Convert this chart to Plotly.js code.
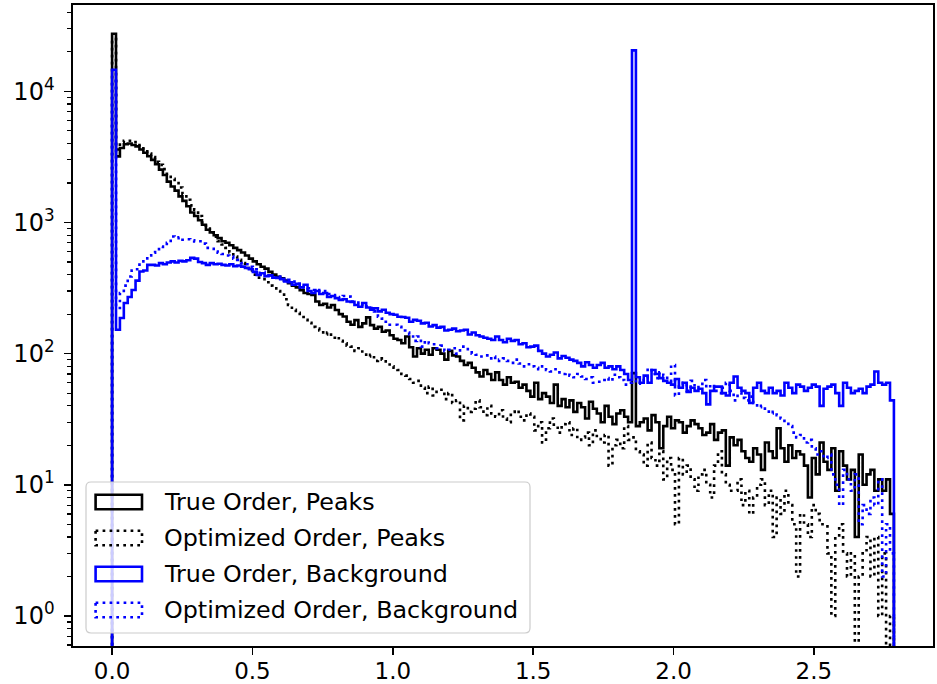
<!DOCTYPE html>
<html>
<head>
<meta charset="utf-8">
<script src="https://cdn.plot.ly/plotly-3.0.1.min.js"></script>
<style>
  html, body { margin: 0; padding: 0; background: #ffffff; }
  #chart { width: 937px; height: 684px; }
</style>
</head>
<body>
<div id="chart"></div>
<script>
// Histogram binning (shared by all four series)
const binStart = 0;
const binStop = 2.785;
const binCount = 200;

const seriesNames = [
  'True Order, Peaks',
  'Optimized Order, Peaks',
  'True Order, Background',
  'Optimized Order, Background'
];

// Counts per bin
const truePeaks = [
  27500, 3190, 3700, 3950, 4000, 3900, 3800, 3600, 3400, 3200,
  3000, 2780, 2530, 2300, 2050, 1880, 1750, 1580, 1460, 1330,
  1190, 1120, 1040, 960, 880, 840, 800, 760, 720, 700,
  670, 640, 615, 590, 560, 530, 505, 480, 460, 445,
  420, 400, 385, 375, 360, 345, 330, 320, 305, 290,
  285, 280, 250, 235, 240, 225, 235, 215, 200, 192,
  175, 166, 180, 160, 170, 189, 165, 155, 160, 147,
  150, 138, 130, 127, 120, 135, 112, 95, 110, 100,
  107, 98, 110, 107, 100, 90, 105, 97, 95, 88,
  82, 85, 78, 72, 67, 75, 70, 63, 72, 63,
  58, 66, 60, 61, 55, 58, 52, 47, 60, 45,
  50, 47, 42, 58, 40, 45, 39, 44, 36, 42,
  39, 32, 43, 38, 35, 30, 40, 33, 29, 35,
  37, 33, 30, 71, 28, 30, 32, 26, 34, 30,
  19, 28, 33, 27, 31, 30, 25, 28, 31, 29,
  27, 24, 25, 29, 22, 25, 26, 14, 23, 20,
  22, 18, 16, 15, 19, 17, 13, 21, 18, 16,
  27, 19, 15, 20, 16, 18, 17, 14, 8, 16,
  12, 21, 15, 13, 19, 9, 18, 14, 11, 13,
  4, 17, 10, 12, 13, 9, 11, 9, 11, 6
];

const optimizedPeaks = [
  25000, 3600, 4100, 4200, 4200, 4100, 4000, 3800, 3600, 3350,
  3150, 2900, 2750, 2550, 2350, 2150, 2050, 1850, 1650, 1490,
  1350, 1250, 1120, 1000, 900, 840, 780, 720, 680, 640,
  590, 550, 520, 490, 450, 430, 400, 380, 370, 350,
  330, 315, 300, 290, 260, 235, 216, 205, 190, 181,
  172, 160, 155, 150, 140, 145, 132, 135, 125, 120,
  115, 113, 105, 110, 101, 95, 98, 88, 92, 90,
  85, 80, 78, 75, 70, 68, 64, 60, 62, 55,
  50, 56, 48, 53, 53, 45, 50, 42, 44, 31,
  40, 36, 38, 44, 39, 34, 40, 35, 33, 37,
  32, 30, 36, 37, 33, 31, 35, 33, 26, 30,
  21, 27, 32, 28, 25, 29, 30, 24, 27, 22,
  23, 25, 20, 26, 23, 21, 24, 14, 20, 22,
  19, 28, 22, 23, 18, 17, 14, 21, 16, 14,
  18, 11, 16, 13, 5, 16, 12, 14, 11, 9,
  12, 13, 10, 8, 14, 18, 12, 10, 9, 9,
  11, 7, 9, 6, 8, 10, 11, 7, 9, 4,
  8, 6, 9, 7, 5, 2, 6, 5, 4, 7,
  6, 5, 5, 3, 1, 4, 5, 3, 2, 3,
  0, 2, 3, 4, 2, 4, 1, 3, 0, 1
];

const trueBackground = [
  14600, 152, 187, 243, 270, 306, 360, 423, 430, 475,
  475, 470, 490, 480, 495, 505, 495, 510, 505, 515,
  537, 530, 500, 490, 475, 490, 480, 485, 475, 470,
  480, 465, 470, 461, 450, 440, 420, 398, 410, 390,
  395, 380, 378, 370, 355, 350, 335, 340, 320, 335,
  300, 290, 300, 285, 290, 270, 275, 265, 257, 260,
  250, 248, 235, 228, 243, 225, 216, 222, 210, 216,
  205, 200, 198, 191, 190, 188, 175, 181, 178, 170,
  172, 161, 165, 158, 160, 150, 152, 155, 148, 150,
  152, 140, 145, 138, 135, 132, 130, 127, 135, 127,
  122, 130, 125, 127, 118, 120, 112, 113, 115, 105,
  100, 95, 98, 102, 92, 96, 93, 90, 88, 85,
  80, 86, 82, 78, 82, 85, 78, 80, 76, 80,
  75, 70, 63, 20500, 66, 60, 68, 60, 75, 70,
  65, 62, 60, 58, 64, 55, 60, 51, 55, 52,
  54, 50, 41, 52, 56, 56, 50, 48, 60, 67,
  55, 52, 50, 42, 55, 60, 52, 50, 55, 50,
  52, 48, 60, 55, 50, 58, 56, 52, 55, 58,
  56, 40, 54, 56, 58, 50, 40, 60, 55, 50,
  52, 54, 50, 56, 58, 73, 60, 58, 60, 44
];

const optimizedBackground = [
  12000, 223, 290, 330, 387, 430, 440, 490, 519, 560,
  587, 610, 656, 650, 700, 782, 760, 770, 738, 745,
  730, 716, 720, 690, 640, 630, 600, 587, 575, 560,
  550, 530, 519, 490, 480, 460, 440, 413, 420, 400,
  395, 380, 387, 370, 360, 365, 354, 340, 330, 320,
  315, 306, 300, 305, 300, 285, 280, 270, 265, 275,
  272, 250, 245, 235, 240, 230, 223, 210, 191, 185,
  175, 166, 166, 160, 150, 145, 140, 125, 135, 113,
  125, 120, 118, 110, 115, 105, 107, 110, 100, 113,
  113, 105, 100, 98, 95, 97, 92, 95, 88, 90,
  92, 88, 85, 90, 84, 80, 83, 80, 78, 76,
  80, 75, 73, 76, 72, 70, 71, 68, 66, 70,
  67, 64, 66, 60, 61, 63, 65, 62, 69, 66,
  63, 58, 60, 62, 59, 60, 66, 77, 70, 65,
  72, 68, 62, 82, 48, 58, 60, 52, 62, 55,
  57, 63, 55, 58, 52, 50, 55, 60, 52, 44,
  50, 46, 44, 47, 42, 39, 40, 37, 35, 36,
  34, 32, 30, 28, 25, 23, 24, 21, 22, 19,
  17, 18, 16, 17, 12, 10, 7, 13, 11, 9,
  12, 5, 7, 6, 8, 7, 11, 2, 5, 3
];

const xTickVals = [0, 0.5, 1.0, 1.5, 2.0, 2.5];
const xTickText = ['0.0', '0.5', '1.0', '1.5', '2.0', '2.5'];
const yTickVals = [1, 10, 100, 1000, 10000];
const yTickText = ['10<sup>0</sup>', '10<sup>1</sup>', '10<sup>2</sup>', '10<sup>3</sup>', '10<sup>4</sup>'];

// ---- drawing ----
const FONT = 'DejaVu Sans, Liberation Sans, sans-serif';
const BLUE = '#0000ff';
const BLACK = '#000000';
const LW = 2.6;
const DOTS = '2.7px,4.3px';
const X_TICK_SIZE = 23;
const Y_TICK_SIZE = 24;
const LEGEND_SIZE = 23.8;

const edges = [];
for (let i = 0; i <= binCount; i++) edges.push(binStart + i * (binStop - binStart) / binCount);

// Step outline like an unfilled histogram: rises from the floor, walks the bins, drops back.
const FLOOR = 1e-3;
function stepOutline(counts) {
  const xs = [edges[0]], ys = [FLOOR];
  counts.forEach((c, i) => { xs.push(edges[i]); ys.push(c > 0 ? c : FLOOR); });
  const last = counts[counts.length - 1];
  xs.push(edges[binCount]); ys.push(last > 0 ? last : FLOOR);
  xs.push(edges[binCount]); ys.push(FLOOR);
  return { xs, ys };
}

const styles = [
  { color: BLACK, dash: 'solid' },
  { color: BLACK, dash: DOTS },
  { color: BLUE, dash: 'solid' },
  { color: BLUE, dash: DOTS }
];
const allSeries = [truePeaks, optimizedPeaks, trueBackground, optimizedBackground];

const traces = allSeries.map((counts, k) => {
  const o = stepOutline(counts);
  return {
    type: 'scatter', mode: 'lines', name: seriesNames[k],
    x: o.xs, y: o.ys,
    line: { shape: 'hv', color: styles[k].color, width: LW, dash: styles[k].dash, simplify: false },
    showlegend: false, hoverinfo: 'skip'
  };
});

// Plot-area geometry in pixels
const W = 937, H = 684;
const M = { l: 73, r: 4, t: 5, b: 38 };
const PW = W - M.l - M.r, PH = H - M.t - M.b;
const px = v => (v - M.l) / PW;
const py = v => 1 - (v - M.t) / PH;

// Legend panel (rounded, translucent) with rectangle handles
const box = { x0: 86, x1: 530, y0: 482, y1: 633, r: 5 };
function roundedPath(b) {
  const X0 = px(b.x0), X1 = px(b.x1), Y0 = py(b.y0), Y1 = py(b.y1);
  const rx = b.r / PW, ry = b.r / PH;
  return `M${X0 + rx},${Y0} L${X1 - rx},${Y0} Q${X1},${Y0} ${X1},${Y0 - ry} ` +
         `L${X1},${Y1 + ry} Q${X1},${Y1} ${X1 - rx},${Y1} L${X0 + rx},${Y1} ` +
         `Q${X0},${Y1} ${X0},${Y1 + ry} L${X0},${Y0 - ry} Q${X0},${Y0} ${X0 + rx},${Y0} Z`;
}
const shapes = [{
  type: 'path', xref: 'paper', yref: 'paper', layer: 'above',
  path: roundedPath(box),
  fillcolor: 'rgba(255,255,255,0.8)',
  line: { color: '#cccccc', width: 1.2 }
}];
const annotations = [];
const rowTop = 502, rowStep = 36;
seriesNames.forEach((name, k) => {
  const cy = rowTop + k * rowStep;
  shapes.push({
    type: 'rect', xref: 'paper', yref: 'paper', layer: 'above',
    x0: px(95.6), x1: px(142), y0: py(cy - 7.3), y1: py(cy + 7.3),
    fillcolor: 'rgba(0,0,0,0)',
    line: { color: styles[k].color, width: LW, dash: styles[k].dash }
  });
  annotations.push({
    xref: 'paper', yref: 'paper', x: px(162), y: py(cy),
    xanchor: 'left', yanchor: 'middle', showarrow: false,
    text: name, font: { family: FONT, size: LEGEND_SIZE, color: BLACK }
  });
});

const span = binStop - binStart;
const layout = {
  width: W, height: H,
  margin: M,
  paper_bgcolor: '#ffffff', plot_bgcolor: '#ffffff',
  font: { family: FONT, size: X_TICK_SIZE, color: BLACK },
  showlegend: false,
  xaxis: {
    range: [binStart - 0.05 * span, binStop + 0.05 * span],
    tickmode: 'array', tickvals: xTickVals, ticktext: xTickText,
    ticks: 'outside', ticklen: 7, tickwidth: 1.6, tickcolor: BLACK,
    ticklabelstandoff: -3,
    tickfont: { family: FONT, size: X_TICK_SIZE, color: BLACK },
    showgrid: false, zeroline: false,
    showline: true, linecolor: BLACK, linewidth: 1.6, mirror: true
  },
  yaxis: {
    type: 'log', range: [-0.229, 4.658],
    tickmode: 'array', tickvals: yTickVals, ticktext: yTickText,
    ticks: 'outside', ticklen: 7, tickwidth: 1.6, tickcolor: BLACK,
    ticklabelstandoff: 5,
    minor: { ticks: 'outside', ticklen: 4, tickwidth: 1.2, tickcolor: BLACK, dtick: 'D1', showgrid: false },
    tickfont: { family: FONT, size: Y_TICK_SIZE, color: BLACK },
    showgrid: false, zeroline: false,
    showline: true, linecolor: BLACK, linewidth: 1.6, mirror: true
  },
  shapes: shapes,
  annotations: annotations
};

Plotly.newPlot('chart', traces, layout, { staticPlot: true, displayModeBar: false });
</script>
</body>
</html>
